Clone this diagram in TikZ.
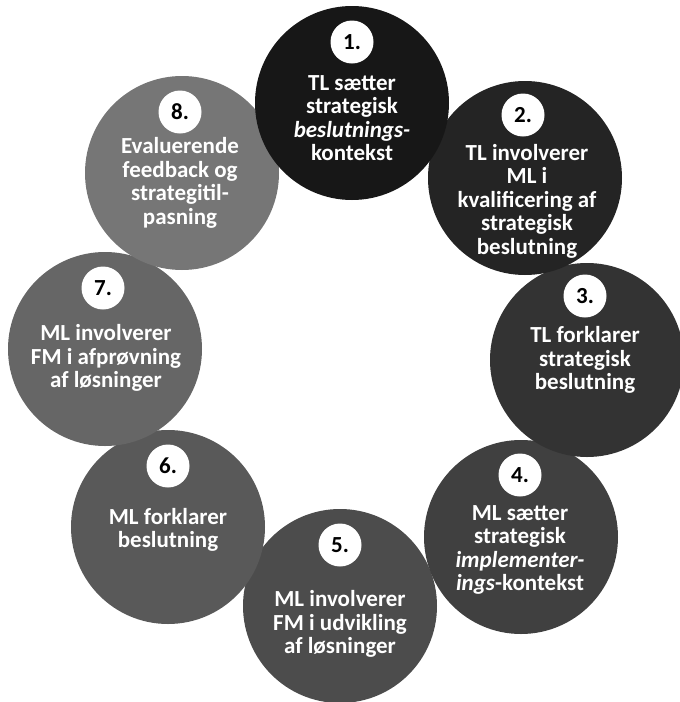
\documentclass[tikz,border=0pt]{standalone}
\usepackage{fontspec}
\setmainfont{Carlito}
\definecolor{fase1}{HTML}{171717}
\definecolor{fase2}{HTML}{242424}
\definecolor{fase3}{HTML}{333333}
\definecolor{fase4}{HTML}{404040}
\definecolor{fase5}{HTML}{4C4C4C}
\definecolor{fase6}{HTML}{595959}
\definecolor{fase7}{HTML}{666666}
\definecolor{fase8}{HTML}{767676}
\begin{document}
\begin{tikzpicture}[x=1pt, y=-1pt,
    every node/.style={font=\bfseries\fontsize{23}{23.5}\selectfont},
    fase/.style={circle, minimum size=194pt, inner sep=0pt},
    nr/.style={circle, fill=white, minimum size=43pt, inner sep=0pt},
    tekst/.style={text=white, align=center}]
    \useasboundingbox (0,0) rectangle (680,702);
    \node [fase, fill=fase5] (s5) at (340,606) {};
    \node [fase, fill=fase4] (s4) at (521,537) {};
    \node [fase, fill=fase6] (s6) at (168,527) {};
    \node [fase, fill=fase3] (s3) at (587,360) {};
    \node [fase, fill=fase7] (s7) at (105,349) {};
    \node [fase, fill=fase2] (s2) at (525,178) {};
    \node [fase, fill=fase8] (s8) at (182,173) {};
    \node [fase, fill=fase1] (s1) at (352,103) {};
    \node [nr] (n1) at (352,42) {1.};
    \node [nr] (n2) at (523,115) {2.};
    \node [nr] (n3) at (585,296) {3.};
    \node [nr] (n4) at (520,475) {4.};
    \node [nr] (n5) at (340,545) {5.};
    \node [nr] (n6) at (168,466) {6.};
    \node [nr] (n7) at (103,288) {7.};
    \node [nr] (n8) at (180,112) {8.};
    \node [tekst] (t1) at (352,118) {TL sætter\\strategisk\\\textit{beslutnings-}\\kontekst};
    \node [tekst] (t2) at (527,201) {TL involverer\\ML i\\kvalificering af\\strategisk\\beslutning};
    \node [tekst] (t3) at (585,360) {TL forklarer\\strategisk\\beslutning};
    \node [tekst] (t4) at (520,550) {ML sætter\\strategisk\\\textit{implementer-}\\\textit{ings}-kontekst};
    \node [tekst] (t5) at (340,624) {ML involverer\\FM i udvikling\\af løsninger};
    \node [tekst] (t6) at (168,530) {ML forklarer\\beslutning};
    \node [tekst] (t7) at (106,358) {ML involverer\\FM i afprøvning\\af løsninger};
    \node [tekst] (t8) at (180,183) {Evaluerende\\feedback og\\strategitil-\\pasning};
  \end{tikzpicture}
\end{document}
